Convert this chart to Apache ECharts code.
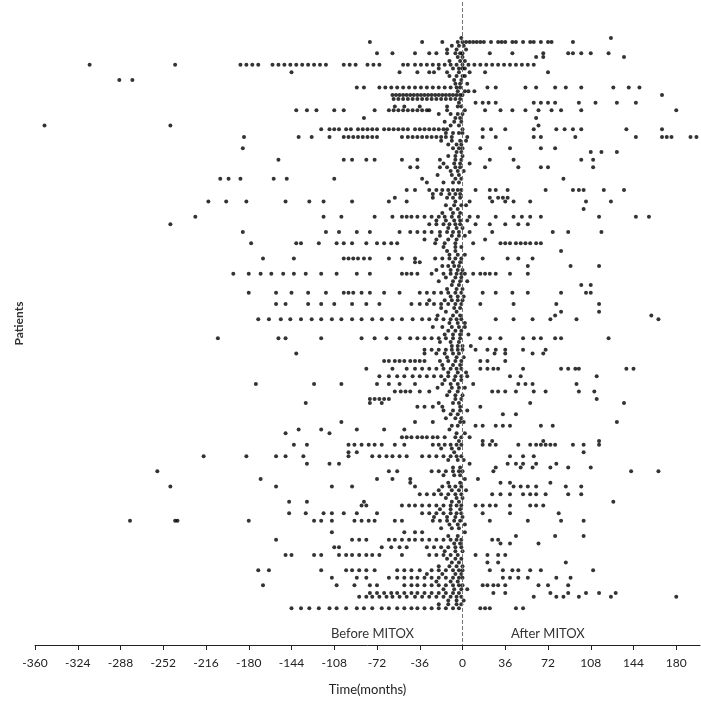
<!DOCTYPE html>
<html>
<head>
<meta charset="utf-8">
<script src="https://cdn.jsdelivr.net/npm/echarts@6/dist/echarts.min.js"></script>
<style>
  html, body { margin: 0; padding: 0; background: #fff; }
  #main { width: 701px; height: 704px; }
</style>
</head>
<body>
<div id="main"></div>
<script>
// x axis ticks (months)
var tickStep = 36;
var xMin = -360;
var xMax = 200;

// patient row number (top = 1)
var patientNo = [
  1, 2, 3, 4, 5, 6, 7, 8, 9, 10, 11, 12, 13, 14, 15, 16, 17, 18, 19, 20,
  21, 22, 23, 24, 25, 26, 27, 28, 29, 30, 31, 32, 33, 34, 35, 36, 37, 38, 39, 41,
  42, 43, 44, 45, 46, 47, 48, 49, 50, 51, 52, 53, 54, 55, 56, 57, 58, 59, 60, 61,
  62, 63, 64, 65, 66, 67, 68, 69, 70, 71, 72, 73, 74, 75, 76, 77, 78, 79, 80, 81,
  82, 83, 84, 85, 86, 87, 88, 89, 90, 91, 92, 93, 94, 95, 96, 97, 98, 99, 100, 101,
  102, 103, 104, 105, 106, 107, 108, 109, 110, 111, 112, 113, 114, 115, 116, 117, 118, 119, 120, 121,
  122, 123, 124, 125, 126, 127, 128, 129, 130, 131, 132, 133, 134, 135, 136, 137, 138, 139, 140, 141,
  142, 143, 144, 145, 146, 147, 148, 149, 150, 151
];

// months of each visit, one list per patient (same order as patientNo)
var visitMonths = [
  [-1, 125],
  [-78, -34, -17, -4, 0, 3, 6, 9, 12, 15, 18, 24, 30, 33, 36, 42, 45, 51, 57, 60, 66, 72, 75, 93],
  [-9, -3, 1],
  [-13, -5, 3],
  [-72, -59, -40, -28, -22, -13, -6, -2, 0, 23, 42, 68, 89, 93, 100, 108, 123],
  [-4, 0, 62, 68, 136],
  [-11, -2, 2],
  [-314, -242, -187, -182, -177, -172, -160, -155, -150, -145, -140, -135, -130, -125, -120, -115, -100, -95, -90, -80, -75, -70, -50, -46, -40, -35, -30, -25, -20, -15, -10, -5, 0, 5, 10, 15, 20, 25, 30, 35, 40, 45, 50, 55, 60],
  [-20, -8, -3, 0, 2],
  [-144, -53, -38, -28, -24, -13, -3, 6, 19, 72],
  [-11, -5, 0, 2],
  [-289, -278, -7, -1],
  [-6, -2, 4],
  [-89, -83, -70, -65, -60, -55, -50, -45, -40, -35, -30, -25, -20, -15, -10, -5, -2, 21, 28, 53, 62, 78, 87, 100, 127, 140, 149],
  [-4, 2, 5, 10],
  [-59, -56, -53, -50, -47, -44, -41, -38, -35, -32, -29, -26, -23, -20, -17, -14, -11, -8, -5, -2, 0, 168],
  [-58, -54, -50, -46, -42, -38, -34, -30, -26, -22, -18, -14, -10, -6, -2],
  [-3, 11, 17, 22, 28, 60, 66, 72, 78, 98, 112, 130, 146],
  [-57, -49, -36, -13, -4, -1],
  [-140, -131, -123, -108, -100, -74, -62, -58, -54, -50, -46, -42, -38, -34, -30, -28, -13, 2, 19, 32, 42, 53, 64, 75, 83, 100, 180],
  [-20, -10, -4, 0],
  [-83, -6, -2, 62],
  [-15, -7, -1],
  [-352, -246, -10, -3, 64],
  [-119, -112, -108, -104, -98, -94, -88, -84, -80, -76, -72, -66, -62, -58, -54, -50, -46, -40, -36, -32, -28, -24, -20, -16, -13, 0, 17, 24, 36, 60, 79, 86, 93, 100, 138, 168],
  [-14, -8, -3, 0],
  [-184, -138, -127, -112, -100, -96, -92, -88, -84, -80, -76, -72, -51, -46, -42, -38, -34, -30, -26, -22, -18, -14, -9, 4, 17, 28, 60, 66, 95, 146, 168, 172, 176, 192, 197],
  [-18, -9, -2, 3],
  [-12, -5, -1],
  [-185, -8, -3, 0, 15, 40, 66, 78],
  [-5, -1, 108, 117, 130],
  [-12, -6, 0],
  [-155, -100, -93, -81, -74, -51, -38, -19, -6, -1, 23, 43, 100, 110],
  [-16, -7, -2, 6],
  [-44, -38, -19, -13, -6, -2, 19, 47, 66, 72, 110],
  [-10, -4, 1],
  [-21, -9, -3],
  [-204, -197, -187, -159, -148, -108, -34, -6, -1, 85],
  [-30, -16, -8, -3],
  [-47, -40, -28, -22, -17, -12, -8, -4, -1, 11, 23, 28, 38, 70, 93, 98, 102, 119, 136],
  [-25, -18, -11, -6, -2],
  [-57, -25, -13, -8, -2, 23, 30, 34, 38],
  [-214, -199, -182, -149, -129, -117, -93, -62, -47, -6, 6, 25, 36, 43, 57, 104, 125],
  [-14, -7, -1, 3],
  [-10, -4, 102],
  [-17, -8, -2],
  [-225, -117, -102, -74, -59, -51, -47, -43, -38, -32, -26, -20, -15, -9, -3, 6, 13, 28, 43, 50, 57, 66, 115, 146, 157],
  [-22, -14, -7, -2, 4],
  [-246, -28, -22, -16, -11, -6, -2, 11, 23, 36, 47, 55],
  [-12, -5, 0],
  [-185, -115, -104, -89, -78, -53, -44, -38, -32, -26, -19, -13, -8, -3, 6, 25, 76, 89, 117],
  [-19, -9, -3, 2],
  [-32, -22, -12, -5, 19],
  [-178, -140, -136, -121, -106, -100, -93, -81, -72, -66, -60, -55, -23, -15, -6, 9, 32, 36, 40, 45, 49, 53, 57, 62, 66],
  [-16, -6, -1],
  [-13, -6, 83],
  [-11, -4, 2],
  [-168, -142, -100, -96, -92, -88, -83, -78, -62, -51, -40, -23, -17, -11, -6, -1, 17, 38, 47, 59],
  [-40, -36, -8, -2],
  [-17, -12, -7, -3, 55, 91, 115],
  [-22, -10, -4, 0],
  [-193, -180, -170, -161, -151, -142, -132, -119, -106, -89, -78, -51, -47, -43, -38, -26, -16, -10, -5, -1, 2, 9, 15, 19, 23, 28, 40, 55],
  [-14, -6, -1],
  [-20, -8, -2, 4],
  [-9, -3, 100, 108],
  [-13, -5, 0],
  [-180, -157, -144, -130, -115, -100, -96, -92, -85, -78, -66, -53, -36, -30, -24, -18, -12, -6, -1, 17, 28, 42, 55, 83, 104, 108],
  [-10, -4, 1],
  [-28, -15, -9, -4, 0],
  [-157, -149, -130, -119, -108, -93, -81, -70, -43, -36, -30, -24, -18, -12, -6, -1, 15, 43, 79, 115],
  [-18, -7, -2],
  [-14, -5, 83, 115],
  [-21, -8, -2, 78, 159],
  [-172, -163, -153, -145, -136, -127, -119, -110, -102, -93, -85, -76, -68, -59, -51, -42, -34, -28, -22, -16, -10, -5, -1, 28, 43, 59, 74, 96, 165],
  [-11, -4, 2],
  [-25, -17, -9, -3, 2],
  [-12, -6, -1],
  [-15, -8, -2, 5],
  [-206, -155, -149, -119, -85, -74, -64, -53, -44, -38, -32, -26, -20, -14, -8, -2, 15, 23, 32, 51, 60, 66, 78, 83, 123],
  [-19, -10, -3],
  [-9, -4, 0, 7],
  [-32, -26, -20, -14, -9, -4, 0, 11, 21, 28, 36, 51, 70],
  [-140, -32, -22, -15, -8, -3, 27, 36, 59, 68],
  [-13, -5, 1],
  [-66, -62, -57, -53, -49, -44, -40, -36, -32, -19, -12, -6, -1, 15, 21, 36],
  [-17, -8, -2],
  [-81, -59, -47, -40, -34, -28, -22, -16, -10, -5, -1, 15, 21, 26, 30, 51, 83, 89, 95, 98, 138, 144],
  [-12, -4, 3],
  [-70, -62, -55, -49, -42, -36, -30, -24, -18, -12, -6, -1, 4, 40, 49, 113],
  [-15, -7, -1],
  [-174, -125, -102, -72, -62, -53, -40, -17, -10, -4, 9, 47, 53, 59, 96],
  [-21, -9, -3, 2],
  [-57, -52, -48, -44, -36, -28, -11, -4, 25, 30, 36, 45, 60, 70, 98, 111],
  [-13, -6, 0],
  [-78, -74, -70, -66, -62, -6, -1, 113],
  [-132, -78, -68, -20, -8, -3, 57, 136],
  [-38, -32, -25, -17, -2, 15],
  [-16, -8, -2, 4],
  [-10, -4, 34, 45],
  [-14, -6, -1],
  [-102, -40, -25, -2, 1, 130],
  [-9, -4, 11, 17, 28, 34, 40, 66, 76],
  [-138, -119, -89, -66, -49, -11],
  [-149, -112, -5, 2],
  [-51, -47, -43, -38, -34, -30, -25, -21, -15, -6, -1, 6],
  [-3, 17, 25, 68, 115],
  [-142, -131, -96, -91, -85, -79, -74, -68, -57, -49, -25, -20, -15, -10, -5, -1, 17, 23, 28, 47, 57, 62, 66, 70, 74, 78, 93, 102, 115],
  [-18, -9, -3],
  [-96, -89, -7, 102],
  [-218, -182, -157, -149, -134, -96, -76, -70, -64, -59, -53, -47, -34, -28, -22, -16, -10, -5, -1, 40, 51, 60],
  [-12, -4, 1],
  [-131, -112, -104, 6, 38, 45, 51, 62, 79],
  [-8, -2, 28, 49, 59, 74, 89, 108],
  [-257, -62, -55, -26, -20, -14, -8, -3, 0, 26, 142, 165],
  [-16, -7, -2],
  [-170, -72, -59, -44, 2, 13],
  [-44, -12, -2, 32, 40, 74],
  [-246, -157, -110, -93, -40, -17, -11, -6, -1, 43, 49, 55, 62, 87, 100],
  [-20, -9, -3, 3],
  [-36, -30, -24, -18, -12, -6, -1, 25, 32, 40, 51, 57, 62, 70, 89, 100],
  [-14, -5, 0],
  [-146, -131, -83, -9, -3, 127],
  [-85, -81, -51, -45, -40, -34, -28, -22, -16, -10, -5, -1, 11, 17, 23, 28, 40, 57, 62, 68],
  [-19, -10, -2],
  [-146, -132, -117, -110, -100, -89, -72, -34, -28, -22, -16, -10, -5, -1, 17, 40, 81],
  [-24, -13, -6, 0],
  [-363, -280, -242, -240, -180, -125, -119, -110, -91, -85, -79, -74, -57, -51, -25, -19, -13, -7, -2, 23, 55, 83, 102],
  [-11, -4, 2],
  [-18, -9, -3],
  [-110, -49, -40, -34, 2],
  [-12, -4, 45, 78, 102],
  [-157, -93, -87, -81, -62, -57, -51, -45, -40, -34, -28, -22, -16, -10, -5, -1, 25, 30],
  [-7, -2, 32, 40, 64],
  [-108, -104, -68, -60, -53, -47, -30, -24, -18, -12, -6, -1],
  [-15, -6, 0],
  [-149, -144, -125, -119, -104, -98, -93, -87, -81, -76, -70, -51, -28, -22, -16, -10, -4, 11, 21, 30, 36],
  [-13, -6, -1],
  [-9, -3, 21, 30, 87],
  [-20, -11, -5, 0],
  [-172, -163, -119, -98, -93, -87, -81, -74, -55, -49, -43, -36, -26, -20, -14, -8, -3, 0, 23, 34, 42, 47, 57, 66, 110],
  [-30, -17, -6, -1],
  [-110, -89, -81, -62, -55, -49, -43, -38, -32, -26, -20, -14, -8, -3, 0, 34, 40, 47, 55, 79, 91],
  [-22, -10, -4],
  [-168, -106, -91, -78, -72, -49, -43, -38, -32, -26, -20, -14, -8, -3, 0, 17, 21, 26, 30, 36, 64, 72, 89],
  [-16, -7, -1, 4],
  [-78, -72, -66, -60, -55, -49, -43, -38, -32, -26, -20, -14, -8, -3, 26, 36, 74, 89, 104, 115, 129],
  [-87, -81, -76, -70, -64, -59, -53, -47, -40, -34, -28, -22, -16, -10, -5, -1, 60, 79, 85, 98, 125, 180],
  [-12, -5, 1],
  [-20, -12, -5, -1],
  [-144, -136, -129, -121, -112, -106, -98, -89, -83, -76, -68, -62, -55, -49, -43, -38, -32, -26, -20, -14, -8, -3, 15, 19, 23, 45, 51]
];

var points = [];
for (var i = 0; i < patientNo.length; i++) {
  var row = visitMonths[i] || [];
  for (var j = 0; j < row.length; j++) {
    points.push([row[j], patientNo[i]]);
  }
}

var chart = echarts.init(document.getElementById('main'));

var option = {
  animation: false,
  backgroundColor: '#fff',
  textStyle: { fontFamily: 'Lato, "Open Sans", sans-serif' },
  grid: { left: 35, right: 1, top: 2, bottom: 59 },
  xAxis: {
    type: 'value',
    min: xMin,
    max: xMax,
    interval: tickStep,
    name: 'Time(months)',
    nameLocation: 'middle',
    nameGap: 38,
    nameTextStyle: { color: '#222', fontSize: 13 },
    axisLine: { show: true, onZero: false, lineStyle: { color: '#222', width: 1 } },
    axisTick: { show: true, length: 5, lineStyle: { color: '#222' } },
    axisLabel: { color: '#222', fontSize: 12, margin: 12, showMaxLabel: false },
    splitLine: { show: false }
  },
  yAxis: {
    type: 'value',
    inverse: true,
    min: -8.5,
    max: 160.7,
    name: 'Patients',
    nameLocation: 'middle',
    nameGap: 10,
    nameTextStyle: { color: '#333', fontSize: 12, fontWeight: 'bold' },
    axisLine: { show: false },
    axisTick: { show: false },
    axisLabel: { show: false },
    splitLine: { show: false }
  },
  graphic: [
    { type: 'text', left: 331, top: 627, style: { text: 'Before MITOX', fill: '#333', fontSize: 13, fontFamily: 'Lato, sans-serif' } },
    { type: 'text', left: 511, top: 627, style: { text: 'After MITOX', fill: '#333', fontSize: 13, fontFamily: 'Lato, sans-serif' } }
  ],
  series: [{
    type: 'scatter',
    data: points,
    symbol: 'circle',
    symbolSize: 4,
    itemStyle: { color: '#000' },
    markLine: {
      silent: true,
      symbol: 'none',
      label: { show: false },
      lineStyle: { type: 'dashed', color: '#777', width: 1 },
      data: [{ xAxis: 0 }]
    }
  }]
};

chart.setOption(option);
</script>
</body>
</html>
